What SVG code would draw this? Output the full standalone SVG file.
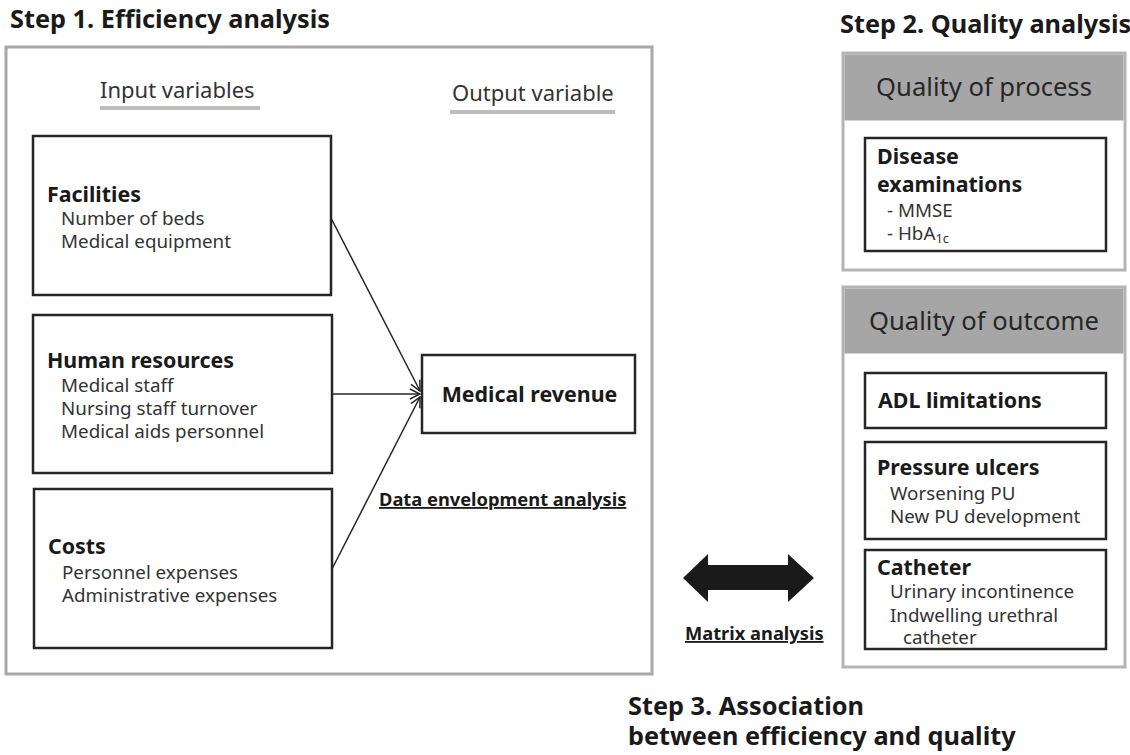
<svg xmlns="http://www.w3.org/2000/svg" width="1130" height="755" viewBox="0 0 1130 755">
<defs>
<style>
text{font-family:"Noto Sans","Open Sans","Liberation Sans",sans-serif;fill:#262626}
.h{font-size:25.3px;font-weight:bold;fill:#1a1a1a}
.b{font-size:21.4px;font-weight:bold;fill:#1a1a1a}
.n{font-size:18.8px;fill:#333}
.lab{font-size:22px;fill:#333}
.q{font-size:25.6px;fill:#262626}
.u{font-size:18.3px;font-weight:bold;text-decoration:underline;fill:#1a1a1a}
.box{fill:#fff;stroke:#262626;stroke-width:2.5}
.frame{fill:#fff;stroke:#a8a8a8;stroke-width:3}
.qframe{fill:#fff;stroke:#b4b4b4;stroke-width:3}
.hdr{fill:#a6a6a6}
.ul{stroke:#bdbdbd;stroke-width:4}
.conn{stroke:#262626;stroke-width:1.5;fill:none;marker-end:url(#arr)}
</style>
<marker id="arr" viewBox="0 0 12 12" refX="11" refY="6" markerWidth="12" markerHeight="12" markerUnits="userSpaceOnUse" orient="auto">
<path d="M1,1 L11,6 L1,11" fill="none" stroke="#262626" stroke-width="1.5"/>
</marker>
</defs>
<rect width="1130" height="755" fill="#fff"/>

<text class="h" x="10" y="28">Step 1. Efficiency analysis</text>
<rect class="frame" x="6" y="47" width="646" height="627"/>

<g id="input-label">
<text class="lab" x="100" y="98">Input variables</text>
<line class="ul" x1="100" y1="108" x2="260" y2="108"/>
</g>
<g id="output-label">
<text class="lab" x="452" y="101">Output variable</text>
<line class="ul" x1="450" y1="112" x2="615" y2="112"/>
</g>

<g id="facilities">
<rect class="box" x="33" y="136" width="298" height="159"/>
<text class="b" x="47" y="202">Facilities</text>
<text class="n" x="61" y="225">Number of beds</text>
<text class="n" x="61" y="248">Medical equipment</text>
</g>

<g id="human-resources">
<rect class="box" x="33" y="315" width="299" height="158"/>
<text class="b" x="47" y="368">Human resources</text>
<text class="n" x="61" y="392">Medical staff</text>
<text class="n" x="61" y="415">Nursing staff turnover</text>
<text class="n" x="61" y="438">Medical aids personnel</text>
</g>

<g id="costs">
<rect class="box" x="34" y="489" width="298" height="159"/>
<text class="b" x="48" y="554">Costs</text>
<text class="n" x="62" y="579">Personnel expenses</text>
<text class="n" x="62" y="602">Administrative expenses</text>
</g>

<g id="medical-revenue">
<rect class="box" x="422" y="355" width="213" height="78"/>
<text class="b" x="529.5" y="402" text-anchor="middle">Medical revenue</text>
</g>

<g id="connectors">
<line class="conn" x1="331" y1="218" x2="420" y2="391"/>
<line class="conn" x1="332" y1="394" x2="420" y2="394"/>
<line class="conn" x1="332" y1="569" x2="420" y2="397"/>
</g>

<g id="dea-label">
<text class="u" x="379" y="506">Data envelopment analysis</text>
</g>

<text class="h" x="840" y="33">Step 2. Quality analysis</text>

<g id="quality-process">
<rect class="qframe" x="843" y="53" width="282" height="217"/>
<rect class="hdr" x="844.5" y="54.5" width="279" height="66"/>
<text class="q" x="984" y="96" text-anchor="middle">Quality of process</text>
<rect class="box" x="865" y="138" width="241" height="113"/>
<text class="b" x="877" y="164">Disease</text>
<text class="b" x="877" y="192">examinations</text>
<text class="n" x="887" y="217">- MMSE</text>
<text class="n" x="887" y="240">- HbA<tspan font-size="13" dy="3">1c</tspan></text>
</g>

<g id="quality-outcome">
<rect class="qframe" x="843" y="287" width="282" height="380"/>
<rect class="hdr" x="844.5" y="288.5" width="279" height="65"/>
<text class="q" x="984" y="330" text-anchor="middle">Quality of outcome</text>
</g>

<g id="adl">
<rect class="box" x="865" y="373" width="241" height="55"/>
<text class="b" x="878" y="408">ADL limitations</text>
</g>

<g id="pressure-ulcers">
<rect class="box" x="865" y="442" width="241" height="97"/>
<text class="b" x="877" y="475">Pressure ulcers</text>
<text class="n" x="890" y="500">Worsening PU</text>
<text class="n" x="890" y="523">New PU development</text>
</g>

<g id="catheter">
<rect class="box" x="865" y="550" width="241" height="99"/>
<text class="b" x="877" y="575">Catheter</text>
<text class="n" x="890" y="598">Urinary incontinence</text>
<text class="n" x="890" y="622">Indwelling urethral</text>
<text class="n" x="903" y="644">catheter</text>
</g>

<g id="matrix-arrow">
<polygon points="683,578 708,554 708,565 788,565 788,554 814,578 788,602 788,590 708,590 708,602" fill="#1a1a1a"/>
<text class="u" x="685" y="640">Matrix analysis</text>
</g>

<g id="step3">
<text class="h" x="628" y="715">Step 3. Association</text>
<text class="h" x="628" y="745">between efficiency and quality</text>
</g>
</svg>
